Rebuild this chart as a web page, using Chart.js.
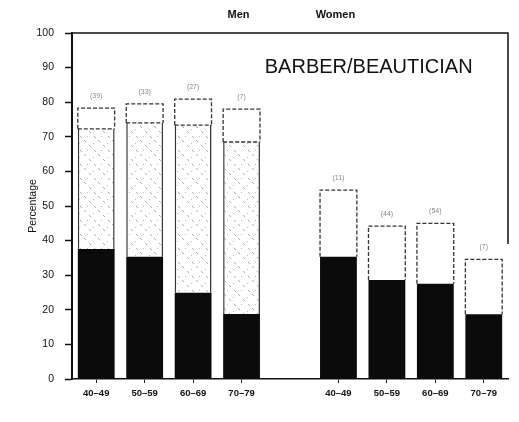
<!DOCTYPE html>
<html>
<head>
<meta charset="utf-8">
<script src="https://cdn.jsdelivr.net/npm/chart.js@4.4.1/dist/chart.umd.min.js"></script>
<style>
  body { margin: 0; background: #fff; }
  canvas { display: block; }
</style>
</head>
<body>
<canvas id="chart" width="519" height="422"></canvas>
<script>
// age groups, shown once for men and once for women
const ageGroups = ['40–49', '50–59', '60–69', '70–79'];
const groupNames = ['Men', 'Women'];
const chartTitle = 'BARBER/BEAUTICIAN';

// percentages (segment heights)
const menBlack = [37.6, 35.3, 24.9, 18.8];
const menHatched = [34.7, 38.7, 48.5, 49.7];
const menTop = [6.0, 5.5, 7.5, 9.5];
const womenBlack = [35.3, 28.6, 27.5, 18.7];
const womenHatched = [0, 0, 0, 0];
const womenTop = [19.3, 15.6, 17.5, 15.9];

// small labels printed above each bar (hard to read in the scan)
const menCounts = ['(39)', '(33)', '(27)', '(7)'];
const womenCounts = ['(11)', '(44)', '(54)', '(7)'];

const yTicks = [0, 10, 20, 30, 40, 50, 60, 70, 80, 90, 100];

// one empty slot between the two groups
const labels = [...ageGroups, '', ...ageGroups];
const join = (a, b) => [...a, null, ...b];
const counts = join(menCounts, womenCounts);

Chart.defaults.font.family = "'Liberation Sans', Arial, sans-serif";
Chart.defaults.color = '#111';

function makeHatch() {
    const c = document.createElement('canvas');
    c.width = 14;
    c.height = 14;
    const g = c.getContext('2d');
    g.fillStyle = '#fff';
    g.fillRect(0, 0, 14, 14);
    g.strokeStyle = 'rgba(0,0,0,0.32)';
    g.lineWidth = 1;
    g.setLineDash([3, 4]);
    g.beginPath();
    g.moveTo(0, 0);
    g.lineTo(14, 14);
    g.stroke();
    g.fillStyle = 'rgba(0,0,0,0.25)';
    g.fillRect(9, 3, 1, 1);
    g.fillRect(3, 10, 1, 1);
    return g.createPattern(c, 'repeat');
}

const decorations = {
    id: 'decorations',
    afterDatasetsDraw(chart) {
        const ctx = chart.ctx;
        const { chartArea, scales } = chart;
        const topMeta = chart.getDatasetMeta(2);
        const hatchData = chart.data.datasets[1].data;

        ctx.save();
        // dashed outline of the top (white) segment
        ctx.strokeStyle = '#333';
        ctx.lineWidth = 1.3;
        ctx.setLineDash([4, 2]);
        topMeta.data.forEach((bar, i) => {
            if (chart.data.datasets[2].data[i] == null) return;
            const half = bar.width / 2;
            const l = bar.x - half, r = bar.x + half;
            ctx.beginPath();
            ctx.moveTo(l, bar.base);
            ctx.lineTo(l, bar.y);
            ctx.lineTo(r, bar.y);
            ctx.lineTo(r, bar.base);
            if (hatchData[i]) {
                ctx.moveTo(l, bar.base);
                ctx.lineTo(r, bar.base);
            }
            ctx.stroke();
        });
        ctx.setLineDash([]);

        // counts above bars
        ctx.fillStyle = '#888';
        ctx.font = "7px 'Liberation Sans', Arial, sans-serif";
        ctx.textAlign = 'center';
        ctx.textBaseline = 'middle';
        topMeta.data.forEach((bar, i) => {
            if (counts[i]) ctx.fillText(counts[i], bar.x, bar.y - 12);
        });

        // frame: top and right lines
        ctx.strokeStyle = '#111';
        ctx.lineWidth = 1.5;
        ctx.beginPath();
        ctx.moveTo(chartArea.left, chartArea.top);
        ctx.lineTo(chartArea.right, chartArea.top);
        ctx.lineTo(chartArea.right, scales.y.getPixelForValue(39));
        ctx.stroke();

        // title inside plot
        ctx.fillStyle = '#111';
        ctx.font = "20px 'Liberation Sans', Arial, sans-serif";
        ctx.textAlign = 'left';
        ctx.fillText(chartTitle, scales.x.getPixelForValue(3.5) - 1, scales.y.getPixelForValue(90));

        // group names above the frame
        ctx.font = "bold 11px 'Liberation Sans', Arial, sans-serif";
        ctx.textAlign = 'center';
        ctx.fillText(groupNames[0], scales.x.getPixelForValue(3) - 3, chartArea.top - 18);
        ctx.fillText(groupNames[1], scales.x.getPixelForValue(5) - 3, chartArea.top - 18);
        ctx.restore();
    }
};

new Chart(document.getElementById('chart'), {
    type: 'bar',
    data: {
        labels: labels,
        datasets: [{
            label: 'black',
            data: join(menBlack, womenBlack),
            backgroundColor: '#0b0b0b',
            borderWidth: 0,
            stack: 'a'
        }, {
            label: 'hatched',
            data: join(menHatched, womenHatched),
            backgroundColor: makeHatch(),
            borderColor: '#333',
            borderWidth: { left: 1.5, right: 1.5, top: 0, bottom: 0 },
            borderSkipped: false,
            stack: 'a'
        }, {
            label: 'top',
            data: join(menTop, womenTop),
            backgroundColor: '#fff',
            borderWidth: 0,
            stack: 'a'
        }]
    },
    options: {
        responsive: false,
        animation: false,
        devicePixelRatio: 1,
        categoryPercentage: 1,
        barPercentage: 0.76,
        layout: { padding: { top: 33, right: 11, bottom: 0, left: 0 } },
        plugins: {
            legend: { display: false },
            tooltip: { enabled: false }
        },
        scales: {
            x: {
                type: 'category',
                offset: true,
                grid: {
                    offset: false,
                    drawOnChartArea: false,
                    tickLength: 4,
                    tickWidth: 1,
                    tickColor: ctx => (ctx.tick && ctx.tick.label ? '#222' : 'rgba(0,0,0,0)')
                },
                border: { color: '#111', width: 1.5 },
                ticks: {
                    autoSkip: false,
                    maxRotation: 0,
                    padding: 5,
                    color: '#111',
                    font: { size: 9.5, weight: 'bold' }
                },
                afterFit: scale => { scale.height = 43; }
            },
            y: {
                stacked: true,
                min: 0,
                max: 100,
                afterBuildTicks: scale => { scale.ticks = yTicks.map(v => ({ value: v })); },
                grid: {
                    drawOnChartArea: false,
                    tickLength: 7,
                    tickWidth: 1.5,
                    tickColor: '#111'
                },
                border: { color: '#111', width: 2 },
                ticks: {
                    padding: 11,
                    color: '#111',
                    font: { size: 10.5 }
                },
                title: {
                    display: true,
                    text: 'Percentage',
                    color: '#111',
                    font: { size: 10.5 },
                    padding: { top: 27, bottom: 0 }
                },
                afterFit: scale => { scale.width = 72; }
            }
        }
    },
    plugins: [decorations]
});
</script>
</body>
</html>
